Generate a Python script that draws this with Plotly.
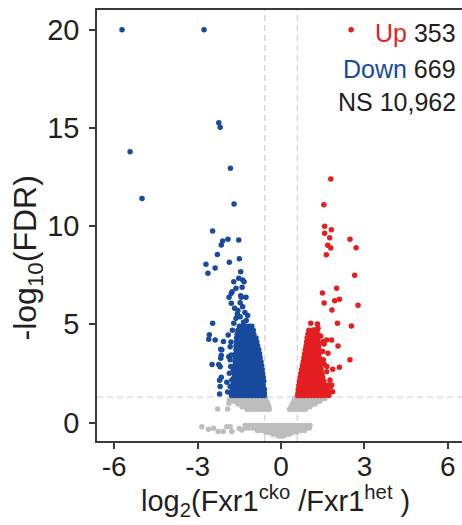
import plotly.graph_objects as go

# ---------------- data ----------------
# Down-regulated genes (blue): scattered outliers + dense cloud
down_pts = [
    (-5.72, 20.0), (-2.77, 20.0), (-2.24, 15.26), (-2.19, 15.03), (-5.43, 13.79),
    (-1.82, 12.94), (-5.00, 11.41), (-1.69, 11.12),
    (-2.46, 9.75), (-2.10, 9.24), (-1.91, 9.33), (-1.52, 9.29), (-2.15, 9.04),
    (-2.29, 8.56), (-1.86, 8.16), (-1.50, 8.34), (-2.70, 8.06), (-2.63, 7.60),
    (-2.37, 7.87), (-1.45, 7.68), (-1.52, 7.34), (-1.38, 7.26), (-1.33, 7.17),
    (-1.70, 7.17), (-1.40, 6.89), (-1.79, 6.58), (-1.62, 6.83), (-1.87, 6.38),
    (-1.43, 6.38), (-1.26, 6.38), (-1.76, 6.66), (-1.45, 6.45),
    (-1.79, 6.07), (-1.47, 6.10), (-1.38, 5.90), (-1.67, 5.82), (-1.57, 5.53),
    (-1.47, 5.39), (-1.62, 5.31), (-1.30, 5.60), (-1.25, 5.20), (-1.70, 5.05),
    (-1.35, 5.10), (-1.20, 5.45), (-1.55, 5.70),
    (-2.46, 5.05), (-2.58, 4.47), (-2.60, 4.24), (-2.37, 4.20), (-2.07, 4.12),
    (-2.13, 3.70), (-2.15, 3.43), (-2.17, 3.27), (-2.24, 2.96), (-2.48, 2.96),
    (-2.19, 2.84), (-2.15, 2.30), (-2.21, 2.15), (-2.19, 1.83), (-2.21, 1.45),
    (-2.17, 3.73), (-1.88, 3.35), (-1.83, 3.86), (-1.79, 3.44), (-1.83, 3.19),
    (-1.81, 2.85), (-1.72, 2.68), (-1.86, 2.51), (-1.77, 2.17), (-1.74, 1.91),
    (-1.72, 1.57), (-1.83, 1.83), (-1.95, 2.05), (-1.92, 1.55), (-1.90, 4.45),
    (-1.75, 4.70), (-1.80, 4.10),
    # dense cloud rows
    (-1.50, 4.9), (-1.38, 4.9), (-1.26, 4.9), (-1.14, 4.9), (-1.05, 4.9),
    (-1.55, 4.7), (-1.43, 4.7), (-1.31, 4.7), (-1.19, 4.7), (-1.08, 4.7), (-1.00, 4.7),
    (-1.58, 4.5), (-1.46, 4.5), (-1.34, 4.5), (-1.22, 4.5), (-1.10, 4.5), (-0.98, 4.5),
    (-1.60, 4.3), (-1.48, 4.3), (-1.36, 4.3), (-1.24, 4.3), (-1.12, 4.3), (-1.00, 4.3), (-0.90, 4.3),
    (-1.60, 4.1), (-1.48, 4.1), (-1.36, 4.1), (-1.24, 4.1), (-1.12, 4.1), (-1.00, 4.1), (-0.87, 4.1),
    (-1.62, 3.9), (-1.50, 3.9), (-1.38, 3.9), (-1.26, 3.9), (-1.14, 3.9), (-1.02, 3.9), (-0.92, 3.9), (-0.84, 3.9),
    (-1.62, 3.7), (-1.50, 3.7), (-1.38, 3.7), (-1.26, 3.7), (-1.14, 3.7), (-1.02, 3.7), (-0.90, 3.7), (-0.80, 3.7),
    (-1.63, 3.5), (-1.51, 3.5), (-1.39, 3.5), (-1.27, 3.5), (-1.15, 3.5), (-1.03, 3.5), (-0.91, 3.5), (-0.77, 3.5),
    (-1.64, 3.3), (-1.52, 3.3), (-1.40, 3.3), (-1.28, 3.3), (-1.16, 3.3), (-1.04, 3.3), (-0.92, 3.3), (-0.82, 3.3), (-0.75, 3.3),
    (-1.65, 3.1), (-1.53, 3.1), (-1.41, 3.1), (-1.29, 3.1), (-1.17, 3.1), (-1.05, 3.1), (-0.93, 3.1), (-0.82, 3.1), (-0.72, 3.1),
    (-1.66, 2.9), (-1.54, 2.9), (-1.42, 2.9), (-1.30, 2.9), (-1.18, 2.9), (-1.06, 2.9), (-0.94, 2.9), (-0.82, 2.9), (-0.70, 2.9),
    (-1.67, 2.7), (-1.55, 2.7), (-1.43, 2.7), (-1.31, 2.7), (-1.19, 2.7), (-1.07, 2.7), (-0.95, 2.7), (-0.83, 2.7), (-0.73, 2.7), (-0.68, 2.7),
    (-1.68, 2.5), (-1.56, 2.5), (-1.44, 2.5), (-1.32, 2.5), (-1.20, 2.5), (-1.08, 2.5), (-0.96, 2.5), (-0.84, 2.5), (-0.74, 2.5), (-0.66, 2.5),
    (-1.69, 2.3), (-1.57, 2.3), (-1.45, 2.3), (-1.33, 2.3), (-1.21, 2.3), (-1.09, 2.3), (-0.97, 2.3), (-0.85, 2.3), (-0.74, 2.3), (-0.64, 2.3),
    (-1.70, 2.1), (-1.58, 2.1), (-1.46, 2.1), (-1.34, 2.1), (-1.22, 2.1), (-1.10, 2.1), (-0.98, 2.1), (-0.86, 2.1), (-0.74, 2.1), (-0.62, 2.1),
    (-1.72, 1.9), (-1.60, 1.9), (-1.48, 1.9), (-1.36, 1.9), (-1.24, 1.9), (-1.12, 1.9), (-1.00, 1.9), (-0.88, 1.9), (-0.76, 1.9), (-0.64, 1.9),
    (-1.74, 1.7), (-1.62, 1.7), (-1.50, 1.7), (-1.38, 1.7), (-1.26, 1.7), (-1.14, 1.7), (-1.02, 1.7), (-0.90, 1.7), (-0.78, 1.7), (-0.66, 1.7), (-0.60, 1.7),
    (-1.76, 1.5), (-1.64, 1.5), (-1.52, 1.5), (-1.40, 1.5), (-1.28, 1.5), (-1.16, 1.5), (-1.04, 1.5), (-0.92, 1.5), (-0.80, 1.5), (-0.68, 1.5), (-0.60, 1.5),
    (-1.78, 1.38), (-1.66, 1.38), (-1.54, 1.38), (-1.42, 1.38), (-1.30, 1.38), (-1.18, 1.38), (-1.06, 1.38), (-0.94, 1.38), (-0.82, 1.38), (-0.70, 1.38), (-0.60, 1.38),
]

# Up-regulated genes (red)
up_pts = [
    (2.52, 20.0), (1.79, 12.40), (1.54, 11.09), (1.57, 9.99), (1.81, 9.82),
    (1.57, 9.63), (1.75, 9.41), (2.48, 9.33), (1.68, 9.02), (1.79, 8.89),
    (2.70, 8.90), (1.63, 8.54), (2.65, 7.50), (2.00, 6.83), (1.49, 6.60),
    (1.93, 6.20), (2.10, 6.27), (1.55, 6.09), (1.83, 5.73), (2.77, 5.97),
    (2.03, 5.05), (2.53, 4.92), (1.52, 4.12), (1.82, 4.20), (1.52, 4.04),
    (1.50, 3.61), (2.48, 3.19), (1.55, 2.98), (1.40, 2.88), (1.86, 2.71),
    (2.10, 2.81), (1.65, 2.85), (1.40, 2.17), (1.76, 2.17), (1.52, 1.83),
    (1.79, 1.83), (1.86, 1.57), (2.05, 3.90), (1.64, 4.20), (1.55, 4.00),
    (1.69, 3.53), (1.43, 4.41), (1.52, 3.19), (1.64, 2.59), (1.70, 1.91),
    (1.82, 1.91), (1.62, 1.66), (1.74, 1.57), (1.31, 5.02), (1.07, 5.05),
    (1.33, 4.80), (1.19, 4.71),
    # dense cloud rows
    (1.00, 4.7), (1.12, 4.7), (1.22, 4.7), (1.30, 4.7),
    (0.97, 4.5), (1.09, 4.5), (1.21, 4.5), (1.32, 4.5),
    (0.94, 4.3), (1.06, 4.3), (1.18, 4.3), (1.33, 4.3),
    (0.92, 4.1), (1.04, 4.1), (1.16, 4.1), (1.26, 4.1), (1.34, 4.1),
    (0.90, 3.9), (1.02, 3.9), (1.14, 3.9), (1.26, 3.9), (1.35, 3.9),
    (0.87, 3.7), (0.99, 3.7), (1.11, 3.7), (1.23, 3.7), (1.36, 3.7),
    (0.85, 3.5), (0.97, 3.5), (1.09, 3.5), (1.21, 3.5), (1.37, 3.5),
    (0.82, 3.3), (0.94, 3.3), (1.06, 3.3), (1.18, 3.3), (1.30, 3.3), (1.38, 3.3),
    (0.80, 3.1), (0.92, 3.1), (1.04, 3.1), (1.16, 3.1), (1.28, 3.1), (1.40, 3.1),
    (0.77, 2.9), (0.89, 2.9), (1.01, 2.9), (1.13, 2.9), (1.25, 2.9), (1.35, 2.9), (1.42, 2.9),
    (0.74, 2.7), (0.86, 2.7), (0.98, 2.7), (1.10, 2.7), (1.22, 2.7), (1.34, 2.7), (1.44, 2.7),
    (0.71, 2.5), (0.83, 2.5), (0.95, 2.5), (1.07, 2.5), (1.19, 2.5), (1.31, 2.5), (1.46, 2.5),
    (0.69, 2.3), (0.81, 2.3), (0.93, 2.3), (1.05, 2.3), (1.17, 2.3), (1.29, 2.3), (1.40, 2.3), (1.50, 2.3),
    (0.66, 2.1), (0.78, 2.1), (0.90, 2.1), (1.02, 2.1), (1.14, 2.1), (1.26, 2.1), (1.38, 2.1), (1.54, 2.1),
    (0.64, 1.9), (0.76, 1.9), (0.88, 1.9), (1.00, 1.9), (1.12, 1.9), (1.24, 1.9), (1.36, 1.9), (1.48, 1.9), (1.58, 1.9),
    (0.62, 1.7), (0.74, 1.7), (0.86, 1.7), (0.98, 1.7), (1.10, 1.7), (1.22, 1.7), (1.34, 1.7), (1.46, 1.7), (1.62, 1.7),
    (0.61, 1.5), (0.73, 1.5), (0.85, 1.5), (0.97, 1.5), (1.09, 1.5), (1.21, 1.5), (1.33, 1.5), (1.45, 1.5), (1.57, 1.5), (1.68, 1.5),
    (0.60, 1.38), (0.72, 1.38), (0.84, 1.38), (0.96, 1.38), (1.08, 1.38), (1.20, 1.38), (1.32, 1.38), (1.44, 1.38), (1.56, 1.38), (1.72, 1.38),
]

# Not significant genes (grey)
ns_pts = [
    # left lobe below threshold
    (-1.75, 1.22), (-1.63, 1.22), (-1.51, 1.22), (-1.39, 1.22), (-1.27, 1.22), (-1.15, 1.22), (-1.03, 1.22), (-0.91, 1.22), (-0.79, 1.22), (-0.67, 1.22), (-0.56, 1.22),
    (-1.70, 1.08), (-1.58, 1.08), (-1.46, 1.08), (-1.34, 1.08), (-1.22, 1.08), (-1.10, 1.08), (-0.98, 1.08), (-0.86, 1.08), (-0.74, 1.08), (-0.62, 1.08), (-0.52, 1.08),
    (-1.55, 0.94), (-1.43, 0.94), (-1.31, 0.94), (-1.19, 0.94), (-1.07, 0.94), (-0.95, 0.94), (-0.83, 0.94), (-0.71, 0.94), (-0.59, 0.94), (-0.48, 0.94),
    (-1.40, 0.80), (-1.28, 0.80), (-1.16, 0.80), (-1.04, 0.80), (-0.92, 0.80), (-0.80, 0.80), (-0.68, 0.80), (-0.56, 0.80), (-0.44, 0.80),
    (-1.22, 0.67), (-1.10, 0.67), (-0.98, 0.67), (-0.86, 0.67), (-0.74, 0.67), (-0.62, 0.67), (-0.50, 0.67), (-0.42, 0.67),
    (-1.86, 1.15), (-1.87, 0.98), (-2.28, 0.69), (-1.92, 0.69),
    # right lobe below threshold
    (0.50, 1.22), (0.62, 1.22), (0.74, 1.22), (0.86, 1.22), (0.98, 1.22), (1.10, 1.22), (1.22, 1.22), (1.34, 1.22), (1.46, 1.22), (1.58, 1.22),
    (0.46, 1.08), (0.58, 1.08), (0.70, 1.08), (0.82, 1.08), (0.94, 1.08), (1.06, 1.08), (1.18, 1.08), (1.30, 1.08), (1.40, 1.08),
    (0.41, 0.94), (0.53, 0.94), (0.65, 0.94), (0.77, 0.94), (0.89, 0.94), (1.01, 0.94), (1.13, 0.94), (1.22, 0.94),
    (0.36, 0.80), (0.48, 0.80), (0.60, 0.80), (0.72, 0.80), (0.84, 0.80), (0.96, 0.80), (1.04, 0.80),
    (0.31, 0.67), (0.43, 0.67), (0.55, 0.67), (0.67, 0.67), (0.79, 0.67), (0.88, 0.67),
    # bottom V-shaped cloud
    (-1.29, -0.15), (-1.17, -0.15), (-1.05, -0.15), (-0.93, -0.15), (-0.81, -0.15), (-0.69, -0.15), (-0.57, -0.15),
    (-0.45, -0.15), (-0.33, -0.15), (-0.21, -0.15), (-0.09, -0.15), (0.03, -0.15), (0.15, -0.15), (0.27, -0.15),
    (0.39, -0.15), (0.51, -0.15), (0.63, -0.15), (0.75, -0.15), (0.87, -0.15), (0.99, -0.15), (1.04, -0.15),
    (-1.25, -0.28), (-1.13, -0.28), (-1.01, -0.28), (-0.89, -0.28), (-0.77, -0.28), (-0.65, -0.28), (-0.53, -0.28),
    (-0.41, -0.28), (-0.29, -0.28), (-0.17, -0.28), (-0.05, -0.28), (0.07, -0.28), (0.19, -0.28), (0.31, -0.28),
    (0.43, -0.28), (0.55, -0.28), (0.67, -0.28), (0.79, -0.28), (0.91, -0.28), (1.02, -0.28),
    (-0.85, -0.40), (-0.73, -0.40), (-0.61, -0.40), (-0.49, -0.40), (-0.37, -0.40), (-0.25, -0.40), (-0.13, -0.40),
    (-0.01, -0.40), (0.11, -0.40), (0.23, -0.40), (0.35, -0.40), (0.47, -0.40), (0.59, -0.40), (0.71, -0.40), (0.85, -0.40),
    (-0.55, -0.50), (-0.43, -0.50), (-0.31, -0.50), (-0.19, -0.50), (-0.07, -0.50), (0.05, -0.50), (0.17, -0.50),
    (0.29, -0.50), (0.41, -0.50), (0.55, -0.50),
    (-0.30, -0.60), (-0.18, -0.60), (-0.06, -0.60), (0.06, -0.60), (0.18, -0.60), (0.30, -0.60),
    (-0.10, -0.68), (0.00, -0.68), (0.10, -0.68),
    # small tail to the left of the bottom cloud
    (-2.85, -0.21), (-2.61, -0.34), (-2.43, -0.29), (-2.26, -0.46), (-2.08, -0.46),
    (-1.95, -0.21), (-1.83, -0.21), (-1.77, -0.46), (-1.41, -0.38), (-1.50, -0.30),
]

counts_up = "353"
counts_down = "669"
counts_ns = "10,962"
x_ticks = [-6, -3, 0, 3, 6]
y_ticks = [0, 5, 10, 15, 20]
fc_cut = 0.585      # log2(1.5)
fdr_cut = 1.30      # -log10(0.05)

# ---------------- styling ----------------
FONT = "Liberation Sans, Arial, sans-serif"
TXT = "#231f20"
AX = "#3d3839"
RED = "#e41f1f"
BLUE = "#184a9e"
GREY = "#bdbdbd"

def unzip(pts):
    return [p[0] for p in pts], [p[1] for p in pts]

fig = go.Figure()
for pts, col in ((ns_pts, GREY), (down_pts, BLUE), (up_pts, RED)):
    xs, ys = unzip(pts)
    fig.add_trace(go.Scatter(x=xs, y=ys, mode="markers",
                             marker=dict(size=5.5, color=col, line=dict(width=0)),
                             hoverinfo="skip", showlegend=False))

dash = dict(color="#d0d0d0", width=1.2, dash="6px,4px")
for xv in (-fc_cut, fc_cut):
    fig.add_shape(type="line", xref="x", yref="paper", x0=xv, x1=xv, y0=0, y1=1,
                  line=dash, layer="below")
fig.add_shape(type="line", xref="paper", yref="y", x0=0, x1=1, y0=fdr_cut, y1=fdr_cut,
              line=dash, layer="below")

fig.update_layout(
    width=462, height=525,
    margin=dict(l=97, r=0, t=10, b=84),
    plot_bgcolor="white", paper_bgcolor="white",
    font=dict(family=FONT, color=TXT),
    showlegend=False,
    xaxis=dict(range=[-6.62, 6.51], tickvals=x_ticks,
               ticktext=[str(v) for v in x_ticks],
               ticks="outside", ticklen=6, tickwidth=1.5, tickcolor=AX,
               showline=True, linecolor=AX, linewidth=1.5, mirror=True,
               showgrid=False, zeroline=False, ticklabelstandoff=-6,
               tickfont=dict(size=28, family=FONT, color=TXT)),
    yaxis=dict(range=[-0.94, 21.0], tickvals=y_ticks,
               ticktext=[str(v) for v in y_ticks],
               ticks="outside", ticklen=6, tickwidth=1.5, tickcolor=AX,
               showline=True, linecolor=AX, linewidth=1.5,
               showgrid=False, zeroline=False, ticklabelstandoff=4,
               tickfont=dict(size=29, family=FONT, color=TXT)),
)

ann = [
    (f"<span style='color:{RED}'>Up</span> {counts_up}", 0.946),
    (f"<span style='color:{BLUE}'>Down</span> {counts_down}", 0.864),
    (f"NS {counts_ns}", 0.787),
]
for txt, yy in ann:
    fig.add_annotation(xref="paper", yref="paper", x=0.99, y=yy, xanchor="right",
                       yanchor="middle", showarrow=False, text=txt,
                       font=dict(size=25, family=FONT, color=TXT))

fig.add_annotation(xref="paper", yref="paper", x=0.488, y=-0.14,
                   xanchor="center", yanchor="middle", showarrow=False,
                   text="log<sub>2</sub>(Fxr1<sup>cko</sup> /Fxr1<sup>het</sup> )",
                   font=dict(size=29, family=FONT, color=TXT))
fig.add_annotation(xref="paper", yref="paper", x=-0.19, y=0.425,
                   xanchor="center", yanchor="middle", showarrow=False, textangle=-90,
                   text="-log<sub>10</sub>(FDR)",
                   font=dict(size=32, family=FONT, color=TXT))

fig.write_html("out.html", config={"displayModeBar": False},
               post_script="document.body.style.margin='0px';")
